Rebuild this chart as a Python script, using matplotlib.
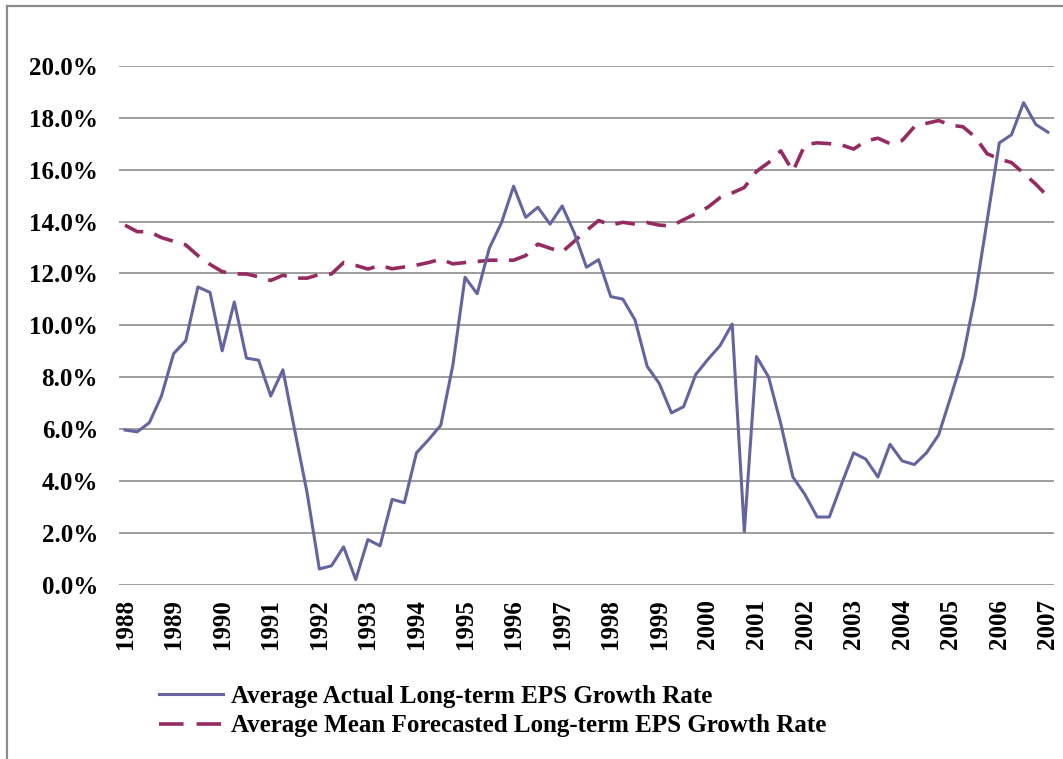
import numpy as np
import matplotlib
matplotlib.use('Agg')
import matplotlib.pyplot as plt
from matplotlib.lines import Line2D

# 분기별 데이터 (1988Q1 ~ 2007Q1)
quarters = 1988 + np.arange(77) / 4

actual = [5.97, 5.90, 6.25, 7.28, 8.91, 9.41, 11.48, 11.27, 9.02, 10.90,
          8.74, 8.66, 7.28, 8.29, 5.90, 3.54, 0.62, 0.74, 1.47, 0.21,
          1.75, 1.51, 3.30, 3.17, 5.09, 5.60, 6.15, 8.47, 11.85, 11.22,
          12.97, 13.95, 15.36, 14.16, 14.55, 13.90, 14.60, 13.56, 12.24, 12.53,
          11.11, 11.01, 10.21, 8.42, 7.76, 6.63, 6.87, 8.11, 8.69, 9.22,
          10.05, 2.06, 8.80, 8.01, 6.22, 4.16, 3.48, 2.62, 2.62, 3.88,
          5.09, 4.85, 4.16, 5.42, 4.78, 4.64, 5.09, 5.78, 7.25, 8.77,
          11.11, 14.05, 17.03, 17.34, 18.58, 17.74, 17.44]

forecast = [13.86, 13.61, 13.61, 13.38, 13.24, 13.10, 12.69, 12.35, 12.07, 11.98,
            11.98, 11.87, 11.73, 11.93, 11.82, 11.82, 11.96, 11.98, 12.42, 12.31,
            12.17, 12.31, 12.18, 12.25, 12.32, 12.42, 12.55, 12.37, 12.42, 12.46,
            12.51, 12.51, 12.51, 12.69, 13.13, 12.97, 12.83, 13.24, 13.65, 14.04,
            13.86, 13.97, 13.90, 13.96, 13.86, 13.83, 14.07, 14.30, 14.55, 14.92,
            15.10, 15.31, 15.93, 16.27, 16.72, 15.93, 16.96, 17.03, 17.00, 16.95,
            16.79, 17.10, 17.21, 17.00, 17.12, 17.65, 17.78, 17.89, 17.71, 17.65,
            17.26, 16.61, 16.41, 16.27, 15.86, 15.44, 14.96]

years = list(range(1988, 2008))
yticks = [0, 2, 4, 6, 8, 10, 12, 14, 16, 18, 20]

label_actual = 'Average Actual Long-term EPS Growth Rate'
label_forecast = 'Average Mean Forecasted Long-term EPS Growth Rate'

c_actual = '#6464a0'
c_forecast = '#962b62'
c_grid = '#8c8c8c'

plt.rcParams['font.family'] = ['Liberation Serif', 'DejaVu Serif']
plt.rcParams['font.weight'] = 'bold'

fig = plt.figure(figsize=(10.63, 7.59), dpi=100)
ax = fig.add_axes([0.1119, 0.2292, 0.8796, 0.6842])

ax.plot(quarters, forecast, color=c_forecast, lw=2.6, dashes=(5.5, 3.2))
ax.plot(quarters, actual, color=c_actual, lw=2.2)

ax.set_xlim(1988 - 0.125, 2007 + 0.125)
ax.set_ylim(0, 20)
ax.set_yticks(yticks)
ax.set_yticklabels([f'{v:.1f}%' for v in yticks], fontsize=18, fontweight='bold')
ax.set_xticks(years)
ax.set_xticklabels([str(y) for y in years], rotation=90, fontsize=18, fontweight='bold')
ax.tick_params(length=0)
ax.tick_params(axis='y', pad=15)
ax.tick_params(axis='x', pad=10)

ax.grid(axis='y', color=c_grid, lw=1.2)
ax.set_axisbelow(True)
for s in ax.spines.values():
    s.set_visible(False)

# 범례 (점선 범례는 두 토막이 되도록 패턴 조정)
handles = [Line2D([], [], color=c_actual, lw=2.2),
           Line2D([], [], color=c_forecast, lw=2.6, dashes=(6.8, 3.6))]
fig.legend(handles, [label_actual, label_forecast], loc='upper left',
           bbox_to_anchor=(159 / 1063, 1 - 685 / 759), frameon=False, fontsize=18,
           handlelength=2.55, handletextpad=0.33, labelspacing=0.25,
           borderaxespad=0, borderpad=0)

# 차트 테두리 (위, 왼쪽)
fig.add_artist(Line2D([7 / 1063, 1], [1 - 6 / 759, 1 - 6 / 759], color=c_grid, lw=1.6))
fig.add_artist(Line2D([7 / 1063, 7 / 1063], [0, 1 - 6 / 759], color=c_grid, lw=1.6))

fig.savefig('out.png', dpi=100)
